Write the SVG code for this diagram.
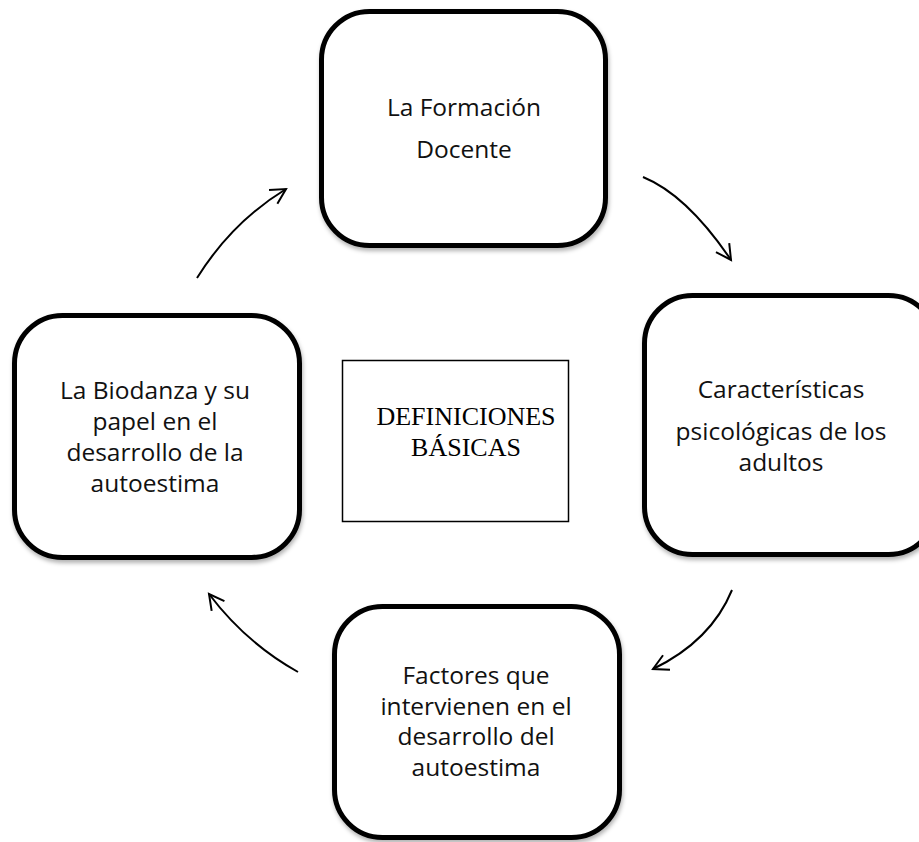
<svg xmlns="http://www.w3.org/2000/svg" width="919" height="842" viewBox="0 0 919 842">
<style>
.box{fill:#fff;stroke:#000;stroke-width:5;filter:url(#sh)}
.t{font-family:"Open Sans","Liberation Sans",sans-serif;font-size:24.5px;fill:#111;text-anchor:middle}
.c{font-family:"Liberation Serif","Times New Roman",serif;font-size:26px;fill:#000;text-anchor:middle}
.arr{fill:none;stroke:#000;stroke-width:2;marker-end:url(#ah)}
</style>
<defs>
<filter id="sh" x="-10%" y="-10%" width="120%" height="120%">
<feDropShadow dx="1" dy="3" stdDeviation="2" flood-color="#000" flood-opacity="0.3"/>
</filter>
<marker id="ah" markerUnits="userSpaceOnUse" markerWidth="30" markerHeight="30" viewBox="-20 -15 30 30" refX="0" refY="0" orient="auto" overflow="visible">
<path d="M-15,-8 L0,0 L-15,8" fill="none" stroke="#000" stroke-width="2"/>
</marker>
</defs>
<rect width="919" height="842" fill="#fff"/>
<g id="connectors">
<path class="arr" d="M197,278 Q232,222 286,189"/>
<path class="arr" d="M643,177 Q687,195 731,260"/>
<path class="arr" d="M732,590 Q711,641 653,669"/>
<path class="arr" d="M298,672 Q246,643 209,594"/>
</g>
<g id="n-formacion">
<rect class="box" x="321.5" y="11.5" width="284" height="234" rx="48"/>
<text class="t" x="464" y="116">La Formación</text>
<text class="t" x="464" y="158">Docente</text>
</g>
<g id="n-caracteristicas">
<rect class="box" x="644.5" y="295.5" width="292" height="259" rx="48"/>
<text class="t" x="781" y="398">Características</text>
<text class="t" x="781" y="440">psicológicas de los</text>
<text class="t" x="781" y="471">adultos</text>
</g>
<g id="n-factores">
<rect class="box" x="334.5" y="606.5" width="285" height="231" rx="48"/>
<text class="t" x="476" y="684">Factores que</text>
<text class="t" x="476" y="714.5">intervienen en el</text>
<text class="t" x="476" y="745">desarrollo del</text>
<text class="t" x="476" y="775.5">autoestima</text>
</g>
<g id="n-biodanza">
<rect class="box" x="14.5" y="315.5" width="285" height="242" rx="48"/>
<text class="t" x="155" y="399">La Biodanza y su</text>
<text class="t" x="155" y="430">papel en el</text>
<text class="t" x="155" y="461">desarrollo de la</text>
<text class="t" x="155" y="492">autoestima</text>
</g>
<g id="n-definiciones">
<rect x="342.5" y="360.5" width="226" height="161" fill="#fff" stroke="#000" stroke-width="1.5"/>
<text class="c" x="466" y="425">DEFINICIONES</text>
<text class="c" x="466" y="456">BÁSICAS</text>
</g>
</svg>
